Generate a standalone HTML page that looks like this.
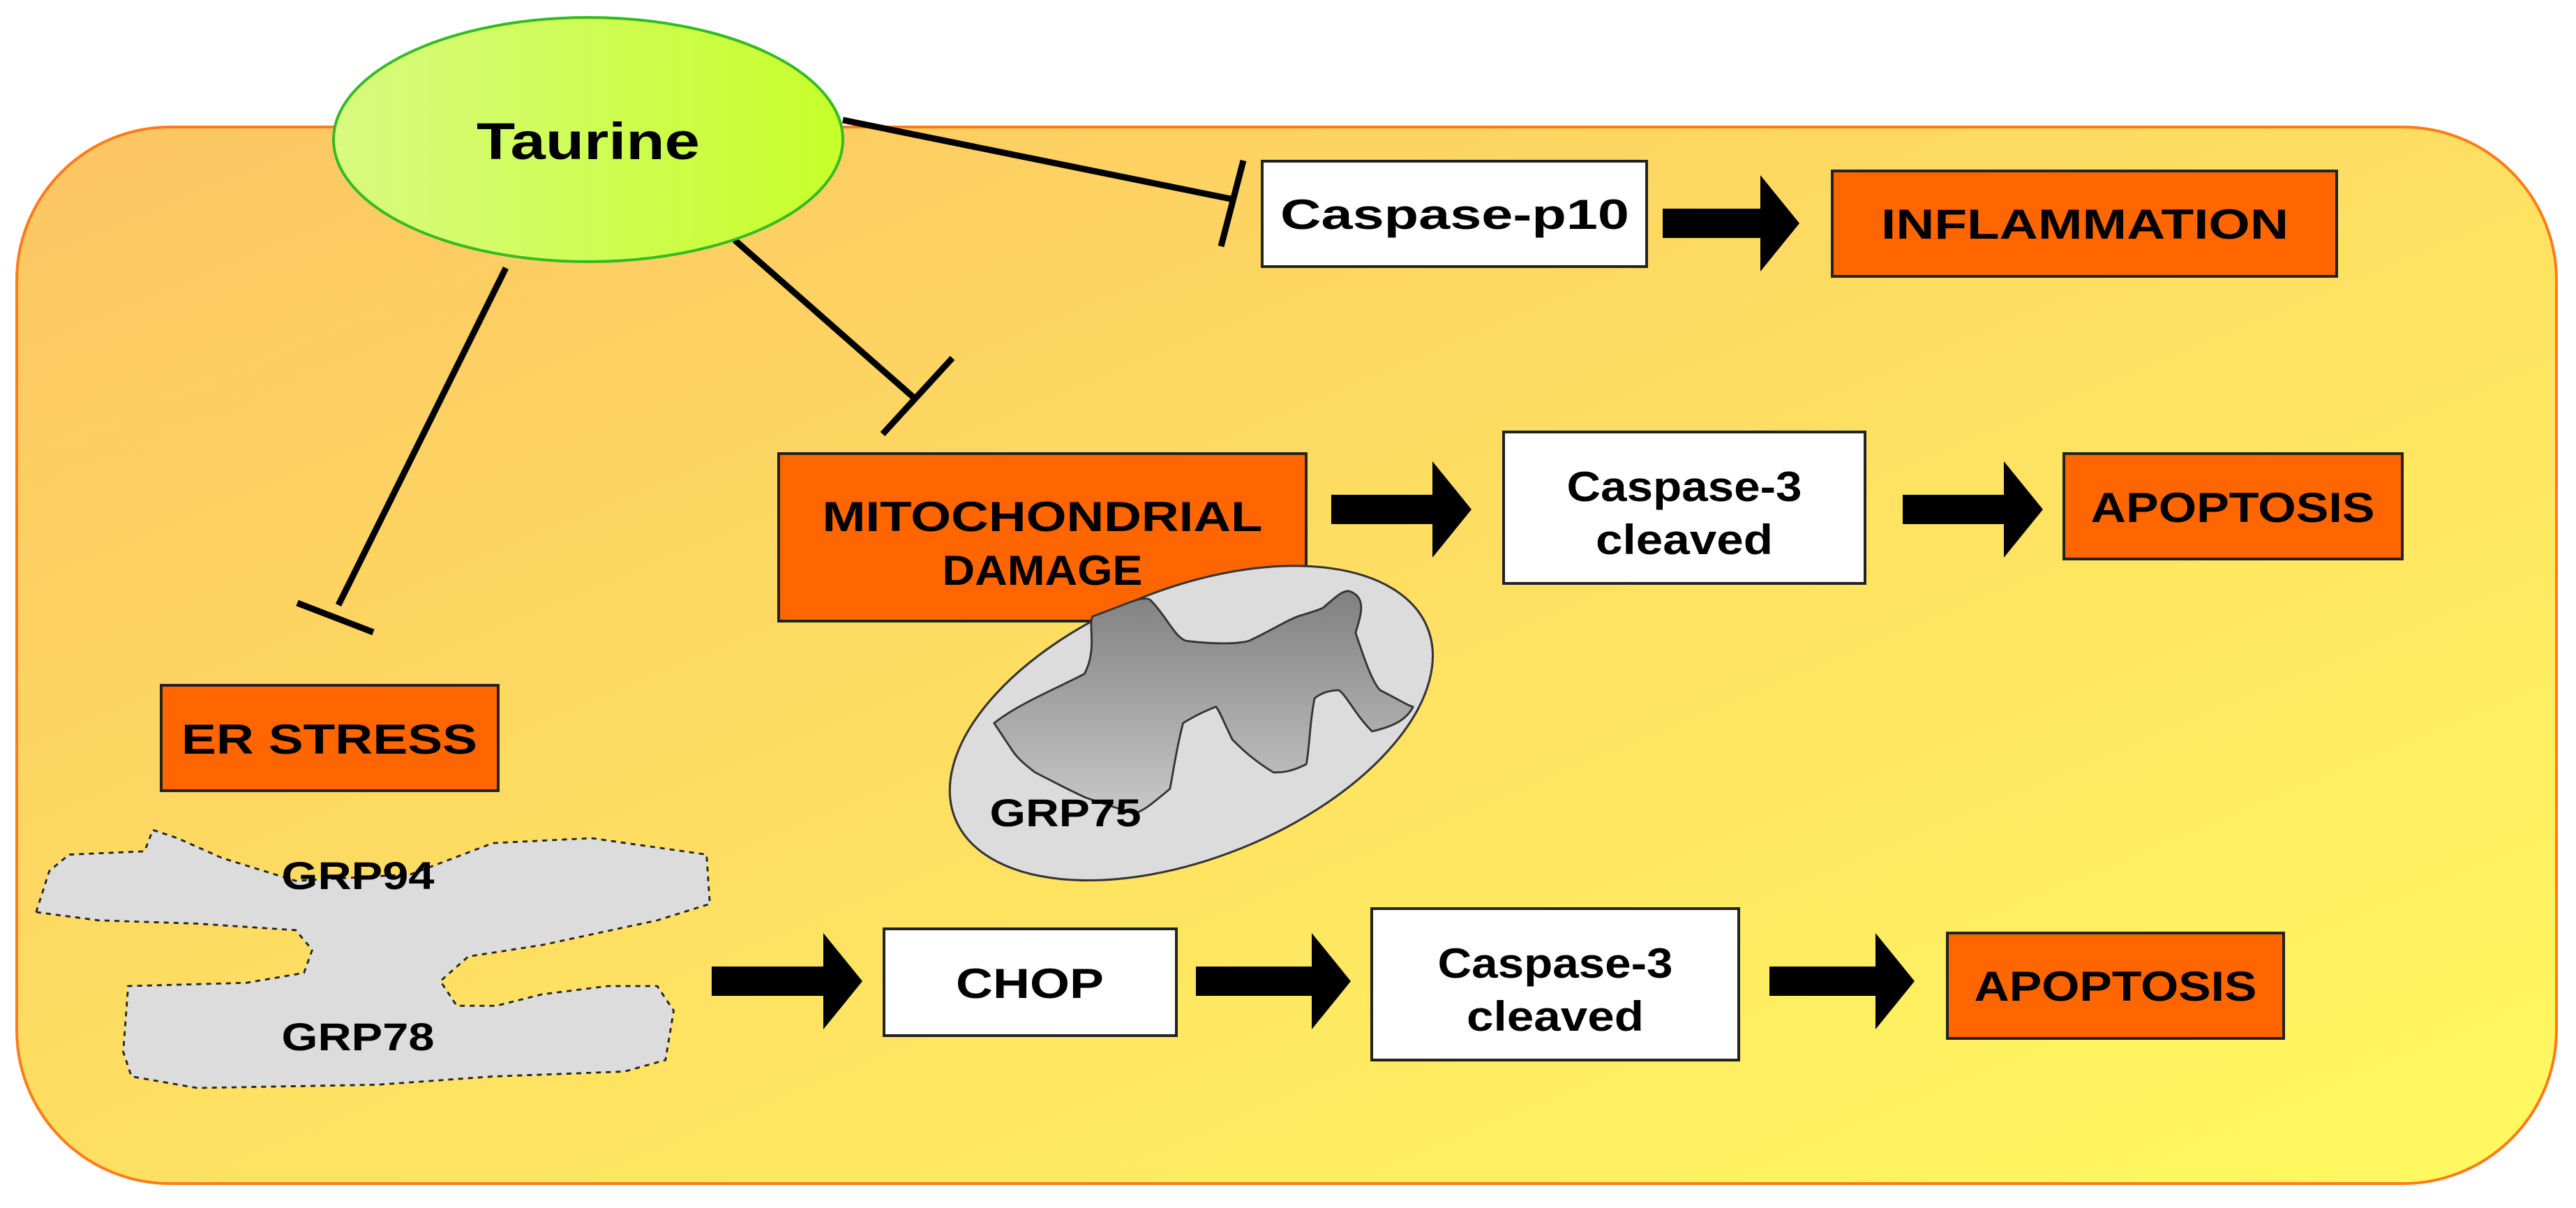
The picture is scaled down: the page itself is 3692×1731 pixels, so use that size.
<!DOCTYPE html>
<html><head><meta charset="utf-8"><style>
html,body{margin:0;padding:0;background:#fff;}
svg{display:block;}
text{font-family:"Liberation Sans",Arial,sans-serif;font-weight:bold;fill:#000;}
</style></head><body>
<svg width="3692" height="1731" viewBox="0 0 3692 1731" xmlns="http://www.w3.org/2000/svg">
<defs>
<linearGradient id="bg" x1="0" y1="0" x2="1" y2="1">
<stop offset="0" stop-color="#fcc563"/><stop offset="1" stop-color="#fffa60"/>
</linearGradient>
<linearGradient id="tau" x1="0" y1="0" x2="1" y2="0">
<stop offset="0" stop-color="#d8fa80"/><stop offset="1" stop-color="#c6ff2a"/>
</linearGradient>
<linearGradient id="mi" x1="0" y1="0" x2="0" y2="1">
<stop offset="0" stop-color="#808080"/><stop offset="1" stop-color="#c8c8c8"/>
</linearGradient>
</defs>
<rect x="24" y="182" width="3640" height="1514" rx="220" ry="220" fill="url(#bg)" stroke="#ff7a1a" stroke-width="4"/>

<g stroke="#000" stroke-width="9" stroke-linecap="butt">
<line x1="1208" y1="172" x2="1764" y2="285"/>
<line x1="1782" y1="230" x2="1750" y2="353"/>
<line x1="1053" y1="344" x2="1310" y2="570"/>
<line x1="1365" y1="513" x2="1265" y2="622"/>
<line x1="725" y1="384" x2="485" y2="867"/>
<line x1="426" y1="864" x2="535" y2="906"/>
</g>

<ellipse cx="843" cy="200" rx="365" ry="175" fill="url(#tau)" stroke="#33bb22" stroke-width="4"/>
<text x="843" y="228" font-size="74" text-anchor="middle" textLength="320" lengthAdjust="spacingAndGlyphs">Taurine</text>

<g stroke="#222" stroke-width="4">
<rect x="1809" y="231" width="551" height="151" fill="#fff"/>
<rect x="2626" y="245" width="723" height="151" fill="#ff6600"/>
<rect x="1116" y="650" width="756" height="240" fill="#ff6600"/>
<rect x="2155" y="619" width="518" height="217" fill="#fff"/>
<rect x="2958" y="650" width="485" height="151" fill="#ff6600"/>
<rect x="231" y="982" width="483" height="151" fill="#ff6600"/>
<rect x="1267" y="1331" width="419" height="153" fill="#fff"/>
<rect x="1966" y="1302" width="526" height="217" fill="#fff"/>
<rect x="2791" y="1337" width="482" height="151" fill="#ff6600"/>
</g>
<g font-size="60" text-anchor="middle" lengthAdjust="spacingAndGlyphs">
<text x="2085" y="328" textLength="500" lengthAdjust="spacingAndGlyphs">Caspase-p10</text>
<text x="2988" y="342" textLength="584" lengthAdjust="spacingAndGlyphs">INFLAMMATION</text>
<text x="1494" y="761" textLength="631" lengthAdjust="spacingAndGlyphs">MITOCHONDRIAL</text>
<text x="1494" y="838" textLength="287" lengthAdjust="spacingAndGlyphs">DAMAGE</text>
<text x="2414" y="718" textLength="337" lengthAdjust="spacingAndGlyphs">Caspase-3</text>
<text x="2414" y="794" textLength="254" lengthAdjust="spacingAndGlyphs">cleaved</text>
<text x="3200" y="748" textLength="407" lengthAdjust="spacingAndGlyphs">APOPTOSIS</text>
<text x="472" y="1080" textLength="424" lengthAdjust="spacingAndGlyphs">ER STRESS</text>
<text x="1476" y="1430" textLength="212" lengthAdjust="spacingAndGlyphs">CHOP</text>
<text x="2229" y="1401" textLength="337" lengthAdjust="spacingAndGlyphs">Caspase-3</text>
<text x="2229" y="1477" textLength="254" lengthAdjust="spacingAndGlyphs">cleaved</text>
<text x="3032" y="1434" textLength="405" lengthAdjust="spacingAndGlyphs">APOPTOSIS</text>
</g>

<g transform="scale(2.355)">
<ellipse cx="725" cy="440" rx="155" ry="82" transform="rotate(-22 725 440)" fill="#dcdcdc" stroke="#333" stroke-width="1.3"/>
<path d="M605,440 C620,428 645,418 660,410 C668,395 662,380 665,375 C685,368 695,362 700,365 C710,375 715,388 722,390 C740,392 752,392 760,390 C775,383 782,378 790,375 C800,372 805,370 805,370 C812,364 818,358 822,360 C832,364 828,375 825,385 C830,400 835,415 840,420 C852,426 858,430 860,430 C856,438 848,442 835,445 C825,435 820,424 815,420 C805,420 800,425 800,425 C797,440 797,455 795,465 C785,470 780,470 775,470 C762,462 755,455 750,450 C745,440 742,432 740,430 C730,434 725,437 720,440 C716,455 714,470 712,480 C700,490 695,494 690,495 C675,490 668,488 660,485 C645,478 638,474 630,470 C622,464 618,460 615,455 Z" fill="url(#mi)" stroke="#333" stroke-width="1.2" stroke-linejoin="round"/>
<path d="M22,555 L30,530 L42,520 L88,518 L93,505 L108,510 L135,522 L180,536 L250,532 L300,513 L360,510 L430,520 L432,550 L400,560 L330,575 L285,582 L268,597 L278,612 L302,612 L330,605 L370,600 L400,600 L410,615 L405,645 L380,652 L300,655 L230,660 L120,662 L80,655 L75,640 L78,600 L150,598 L185,592 L190,578 L180,566 L120,562 L60,560 Z" fill="#dcdcdc" stroke="#222" stroke-width="1.2" stroke-dasharray="3,3"/>
</g>
<g font-size="56" text-anchor="middle">
<text x="1527" y="1184" textLength="217" lengthAdjust="spacingAndGlyphs">GRP75</text>
<text x="513" y="1274" textLength="219" lengthAdjust="spacingAndGlyphs">GRP94</text>
<text x="513" y="1505" textLength="219" lengthAdjust="spacingAndGlyphs">GRP78</text>
</g>

<g fill="#000">
<path d="M2383,299 h140 v-48 l56,69 l-56,69 v-48 h-140 z"/>
<path d="M1908,709 h145 v-48 l56,69 l-56,69 v-48 h-145 z"/>
<path d="M2727,709 h145 v-48 l56,69 l-56,69 v-48 h-145 z"/>
<path d="M1020,1385 h160 v-48 l56,69 l-56,69 v-48 h-160 z"/>
<path d="M1714,1385 h166 v-48 l56,69 l-56,69 v-48 h-166 z"/>
<path d="M2536,1385 h152 v-48 l56,69 l-56,69 v-48 h-152 z"/>
</g>
</svg>
</body></html>
